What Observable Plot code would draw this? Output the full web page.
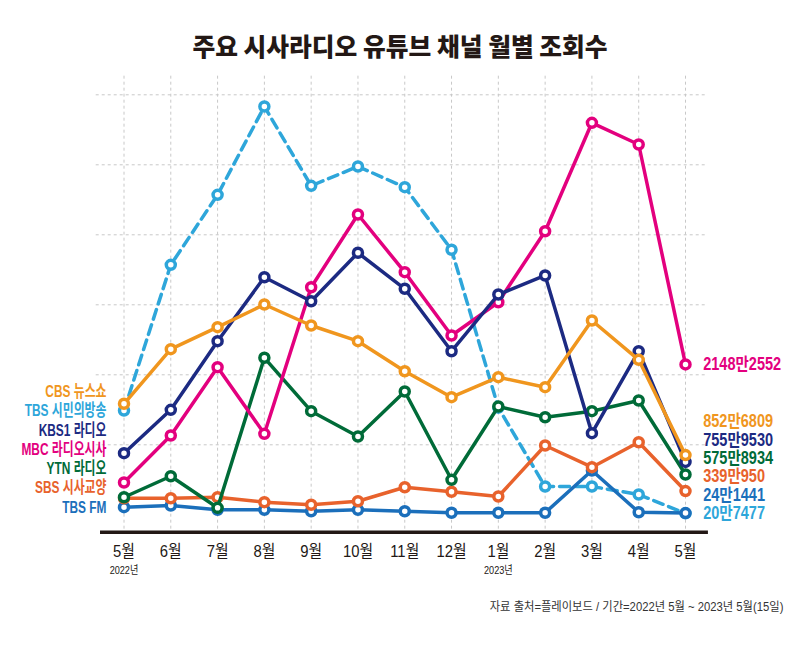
<!DOCTYPE html>
<html><head><meta charset="utf-8">
<script src="https://cdn.jsdelivr.net/npm/d3@7"></script>
<script src="https://cdn.jsdelivr.net/npm/@observablehq/plot@0.6"></script>
<style>
body{margin:0;background:#fff;}
#wrap{position:relative;width:800px;height:657px;overflow:hidden;background:#fff;}
#chart{position:absolute;left:0;top:0;}
#title{position:absolute;left:0;top:30px;width:800px;text-align:center;line-height:30px;font-family:'Noto Sans CJK KR',sans-serif;font-weight:900;font-size:25.5px;color:#231815;}
#title span{display:inline-block;transform:scaleX(0.97);}
#source{position:absolute;right:17px;top:599px;line-height:16px;font-size:12px;font-family:'Liberation Sans','Noto Sans CJK KR',sans-serif;color:#333;transform:scaleX(0.94);transform-origin:right center;white-space:nowrap;}
</style></head>
<body>
<div id="wrap"><div id="chart"></div><div id="title"><span></span></div><div id="source"></div></div>
<script>
// ---- data (만 views) ----
const titleText = "주요 시사라디오 유튜브 채널 월별 조회수";
const sourceText = "자료 출처=플레이보드 / 기간=2022년 5월 ~ 2023년 5월(15일)";
const months = ["5월","6월","7월","8월","9월","10월","11월","12월","1월","2월","3월","4월","5월"];
const yearTicks = [0, 8];
const yearLabels = ["2022년", "2023년"];
const seriesNames = ["CBS 뉴스쇼","TBS 시민의방송","KBS1 라디오","MBC 라디오시사","YTN 라디오","SBS 시사교양","TBS FM"];
const cbs        = [1586, 2366, 2680, 3004, 2704, 2480, 2051, 1680, 1966, 1823, 2776, 2214, 852.6809];
const tbsCitizen = [1490, 3571, 4571, 5833, 4700, 4976, 4680, 3786, 1530,  404,  404,  290,  20.7477];
const kbs1       = [ 880, 1500, 2480, 3394, 3051, 3743, 3229, 2337, 3147, 3419, 1166, 2337, 755.9530];
const mbc        = [ 461, 1133, 2109, 1157, 3251, 4290, 3466, 2561, 3037, 4051, 5600, 5290, 2148.2552];
const ytn        = [ 251,  551,  100, 2243, 1480, 1119, 1761,  500, 1547, 1394, 1480, 1633, 575.8934];
const sbs        = [ 237,  237,  251,  180,  143,  194,  394,  329,  261,  990,  680, 1037, 339.0950];
const tbsFm      = [ 109,  133,   71,   71,   51,   71,   51,   29,   29,   29,  633,   37,  24.1441];
const finalLabels = ["852만6809","20만7477","755만9530","2148만2552","575만8934","339만950","24만1441"];
const gridValues = [1000, 2000, 3000, 4000, 5000, 6000];

// ---- styles ----
const seriesColors = ["#F0961E","#2EA6DA","#1C2A82","#E3007E","#006B38","#E8622C","#1B6FBB"];
const drawOrder = [1, 6, 5, 4, 3, 2, 0];
const seriesValues = [cbs, tbsCitizen, kbs1, mbc, ytn, sbs, tbsFm];
const font = "'Liberation Sans','Noto Sans CJK KR',sans-serif";

const W = 800, H = 657, mT = 94.3, mB = 142.7, mL = 123.5, mR = 115;
const pxPerUnit = (H - mT - mB) / 6000;

const rows = seriesNames.flatMap((name, s) => seriesValues[s].map((v, i) => ({name, i, v})));

function spread(items, gapPx) {
  const gap = gapPx / pxPerUnit;
  const sorted = [...items].sort((a, b) => a.v - b.v);
  let prev = -Infinity;
  for (const it of sorted) { it.pos = Math.max(it.v, prev + gap); prev = it.pos; }
  return items;
}
const leftLabels = spread(seriesNames.map((name, s) => ({name, text: name, i: 0, v: seriesValues[s][0]})), 19.2);
const rightLabels = spread(seriesNames.map((name, s) => ({name, text: finalLabels[s], i: 12, v: seriesValues[s][12]})), 18.3);

const gridStyle = {stroke: "#c8c8c8", strokeWidth: 1, strokeDasharray: "3,3"};
const marks = [
  Plot.ruleY(gridValues, {x1: -0.594, x2: 12.43, ...gridStyle}),
  Plot.ruleX(d3.range(months.length), {y1: 6266, y2: -249, ...gridStyle})
];
for (const s of drawOrder) {
  const data = rows.filter(r => r.name === seriesNames[s]);
  const lineOpts = {x: "i", y: "v", stroke: "name", strokeWidth: 3.5, strokeLinejoin: "round"};
  if (s === 1) lineOpts.strokeDasharray = "10,6";
  marks.push(Plot.line(data, lineOpts));
  marks.push(Plot.dot(data, {x: "i", y: "v", r: 4.5, fill: "white", stroke: "name", strokeWidth: 3.5}));
}
marks.push(
  Plot.ruleY([-249], {x1: -0.502, x2: 12.49, stroke: "#231815", strokeWidth: 3.7}),
  Plot.axisX(d3.range(months.length), {tickSize: 0, tickPadding: 30, tickFormat: i => months[i], fontSize: 16.5, color: "#231815", anchor: "bottom", label: null}),
  Plot.axisX(yearTicks, {tickSize: 0, tickPadding: 51, tickFormat: i => yearLabels[yearTicks.indexOf(i)], fontSize: 11, color: "#231815", anchor: "bottom", label: null}),
  Plot.text(leftLabels, {x: "i", y: "pos", text: "text", fill: "name", dx: -17.5, textAnchor: "end", fontSize: 17, fontWeight: 700}),
  Plot.text(rightLabels, {x: "i", y: "pos", text: "text", fill: "name", dx: 17.7, textAnchor: "start", fontSize: 17.5, fontWeight: 700})
);

const chart = Plot.plot({
  width: W, height: H,
  marginTop: mT, marginBottom: mB, marginLeft: mL, marginRight: mR,
  x: {type: "linear", domain: [0, 12]},
  y: {domain: [0, 6000], axis: null},
  color: {domain: seriesNames, range: seriesColors},
  style: {fontFamily: font, background: "transparent", overflow: "visible"},
  marks
});

// horizontal squeeze of label texts around their own anchor
function squeezeFactor(t) {
  if (seriesNames.includes(t)) return 0.7;
  if (finalLabels.includes(t)) return 0.83;
  if (yearLabels.includes(t)) return 0.83;
  if (months.includes(t)) return 0.9;
  return null;
}
d3.select(chart).selectAll("text").each(function() {
  const k = squeezeFactor(this.textContent.trim());
  if (k == null) return;
  const tx = +(this.getAttribute("x") || 0);
  const prev = this.getAttribute("transform") || "";
  this.setAttribute("transform", `${prev} translate(${tx},0) scale(${k},1) translate(${-tx},0)`);
});

document.getElementById("chart").appendChild(chart);
document.querySelector("#title span").textContent = titleText;
document.getElementById("source").textContent = sourceText;
</script>
</body></html>
